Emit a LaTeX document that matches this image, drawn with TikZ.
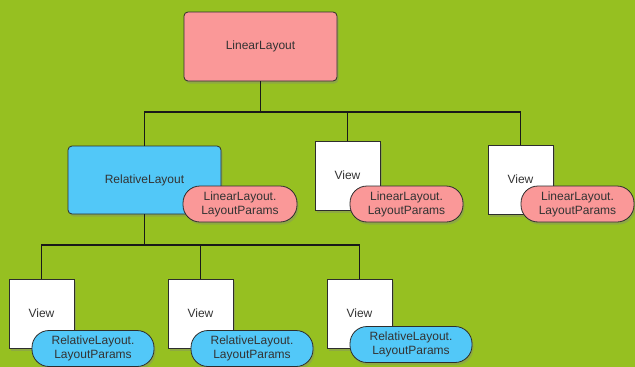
\documentclass[tikz,border=0pt]{standalone}
\usepackage{fontspec}
\setmainfont{Liberation Sans}
\usetikzlibrary{shadows}

\definecolor{grassgreen}{RGB}{150,192,33}
\definecolor{linpink}{RGB}{250,152,152}
\definecolor{relblue}{RGB}{82,200,248}
\definecolor{boxline}{RGB}{45,45,45}

\tikzstyle{layoutbox}=[draw=boxline,line width=0.8pt,rounded corners=4pt,font=\fontsize{12}{14}\selectfont,text=black!80,
  drop shadow={opacity=0.35,shadow xshift=1.5pt,shadow yshift=-2.5pt}]
\tikzstyle{viewbox}=[layoutbox,rounded corners=0pt,fill=white,minimum width=65pt,minimum height=69pt,inner sep=0pt]
\tikzstyle{params}=[layoutbox,rounded corners=17pt,inner sep=0pt,minimum height=36pt,align=center,
  font=\fontsize{12}{14}\selectfont]
\tikzstyle{edge}=[draw,line width=1.5pt,black!90]

\begin{document}
\begin{tikzpicture}[x=1pt,y=-1pt]
    \useasboundingbox (0,0) rectangle (635,367);
    \fill[grassgreen] (0,0) rectangle (635,367);
    \begin{scope}
    \clip (0,0) rectangle (635,367);
    % First the two layouts
    \node[layoutbox,fill=linpink,minimum width=153pt,minimum height=69pt] (ll) at (260.5,46.5) {LinearLayout};
    \node[layoutbox,fill=relblue,minimum width=153pt,minimum height=68pt] (rl) at (144.5,180) {RelativeLayout};
    \node[params,fill=linpink,minimum width=114pt] (rlp) at (240,204) {LinearLayout.\\LayoutParams};
    % Views held by the LinearLayout
    \foreach \pos/\name/\ppos in {{(347.5,175.5)/va/(406.5,204)}, {(520.5,179.5)/vb/(577.5,204)}}{
        \node[viewbox] (\name) at \pos {View};
        \node[params,fill=linpink,minimum width=113pt] (\name p) at \ppos {LinearLayout.\\LayoutParams};
    }
    % Views held by the RelativeLayout
    \foreach \pos/\name/\ppos in {{(41.5,313.5)/vc/(93,348.5)}, {(200.5,313.5)/vd/(252,348.5)}, {(359.5,313.5)/ve/(411,344.5)}}{
        \node[viewbox] (\name) at \pos {View};
        \node[params,fill=relblue,minimum width=122pt] (\name p) at \ppos {RelativeLayout.\\LayoutParams};
    }
    % Connect parents and children
    \coordinate (top) at (260.5,112);
    \coordinate (mid) at (144.5,245);
    \path[edge] (ll.south) -- (top);
    \foreach \dest in {rl,va,vb}
        \path[edge] (top) -| (\dest.north);
    \path[edge] (rl.south) -- (mid);
    \foreach \dest in {vc,vd,ve}
        \path[edge] (mid) -| (\dest.north);
    \end{scope}
\end{tikzpicture}
\end{document}
